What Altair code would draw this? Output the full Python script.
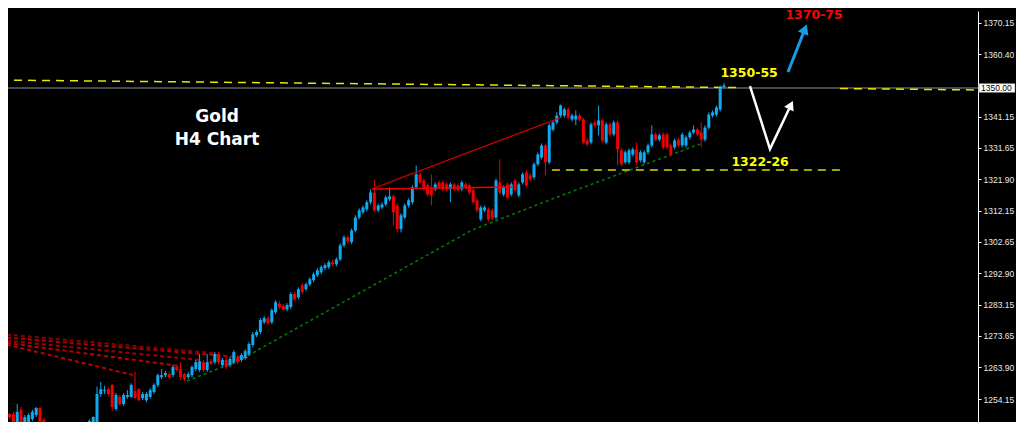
import altair as alt
import pandas as pd
import numpy as np

# ---------------- candle data (Gold H4) ----------------
opens = [1251.4,1247.1,1249.5,1249.5,1246.2,1250.8,1247.1,1247.1,1248.0,1249.2,
         1251.4,1247.7,1243.5,1241.0,1242.0,1246.4,1243.0,1240.5,1241.8,1243.5,
         1242.5,1243.8,1244.5,1243.0,1245.0,1244.5,1255.7,1256.6,1257.2,1258.5,
         1251.1,1254.8,1252.6,1254.8,1254.8,1256.6,1257.2,1254.4,1253.8,1254.8,
         1256.3,1258.5,1260.9,1261.5,1261.8,1261.5,1264.0,1263.4,1261.8,1260.9,
         1261.5,1263.4,1263.1,1265.5,1263.1,1265.8,1265.5,1268.0,1264.6,1266.2,
         1264.6,1265.5,1267.1,1266.2,1266.8,1268.0,1270.8,1273.8,1274.8,1277.8,
         1279.0,1277.8,1280.9,1283.5,1282.8,1281.8,1282.5,1286.5,1285.5,1289.2,
         1288.0,1289.5,1290.8,1292.3,1293.2,1294.5,1294.8,1296.3,1295.7,1297.2,
         1301.5,1304.0,1302.5,1306.1,1310.1,1311.7,1312.6,1314.8,1317.8,1312.3,
         1313.2,1314.1,1315.7,1316.6,1313.8,1306.5,1310.1,1313.8,1314.8,1319.4,
         1323.4,1321.5,1320.0,1318.8,1318.8,1320.9,1320.9,1320.3,1318.8,1320.3,
         1320.0,1318.8,1320.3,1320.0,1318.5,1315.4,1309.5,1312.3,1312.6,1312.3,
         1310.1,1320.9,1317.2,1320.3,1317.2,1321.5,1316.9,1320.9,1324.0,1323.1,
         1322.5,1326.5,1328.6,1332.3,1327.1,1337.2,1339.4,1341.5,1341.5,1343.4,
         1340.3,1340.3,1341.5,1340.3,1333.8,1333.2,1339.4,1338.5,1340.0,1333.2,
         1338.8,1335.7,1339.4,1330.8,1327.1,1327.1,1329.5,1331.1,1327.7,1327.1,
         1330.2,1332.3,1335.7,1334.1,1335.7,1335.7,1332.3,1331.7,1334.1,1332.3,
         1332.3,1334.8,1336.3,1337.2,1336.3,1334.1,1337.8,1341.5,1341.8,1343.4,
         1350.2]
highs = [1254.1,1250.2,1249.8,1250.2,1252.6,1251.7,1249.2,1249.8,1250.8,1251.7,
         1251.7,1248.3,1244.5,1243.5,1246.5,1247.0,1243.8,1242.5,1245.2,1244.3,
         1244.5,1245.3,1244.9,1247.9,1248.8,1258.0,1259.4,1258.2,1257.8,1258.8,
         1256.0,1255.4,1256.0,1256.9,1259.0,1262.5,1257.5,1256.3,1256.3,1257.5,
         1259.0,1262.0,1263.4,1262.8,1262.5,1264.6,1264.6,1265.5,1262.2,1262.5,
         1264.6,1266.2,1268.0,1266.2,1268.0,1266.5,1268.6,1268.6,1266.8,1266.8,
         1267.1,1269.2,1267.7,1268.3,1269.5,1271.7,1274.8,1275.4,1279.1,1279.7,
         1279.7,1282.1,1284.6,1284.3,1283.4,1283.7,1287.1,1287.1,1288.6,1289.8,
         1290.1,1291.7,1293.2,1294.5,1295.4,1296.0,1296.9,1296.9,1297.8,1302.1,
         1304.6,1304.6,1306.7,1310.8,1312.9,1313.8,1315.4,1318.8,1321.8,1314.4,
         1314.8,1316.9,1319.4,1317.2,1314.4,1311.4,1314.4,1316.0,1320.0,1326.1,
         1324.0,1322.1,1320.6,1323.4,1320.9,1321.5,1321.5,1320.9,1320.9,1320.9,
         1320.6,1321.5,1320.9,1320.6,1319.1,1316.0,1313.8,1313.8,1313.2,1312.9,
         1322.1,1328.0,1320.0,1320.9,1320.9,1322.1,1320.9,1324.0,1324.6,1323.7,
         1327.1,1330.2,1332.9,1332.9,1339.1,1340.0,1342.5,1344.9,1344.0,1344.0,
         1342.1,1343.1,1342.1,1340.9,1334.4,1339.4,1340.0,1344.6,1340.6,1339.4,
         1339.4,1340.0,1340.0,1331.4,1330.8,1331.4,1331.7,1333.2,1330.8,1330.8,
         1332.9,1338.5,1336.3,1336.0,1336.3,1336.3,1332.9,1334.4,1334.7,1336.3,
         1335.4,1336.9,1338.5,1337.8,1339.4,1338.5,1342.5,1343.1,1344.6,1350.8,
         1351.5]
lows = [1244.5,1246.2,1248.0,1245.5,1244.0,1246.2,1246.5,1246.8,1247.4,1248.6,
        1246.2,1242.0,1240.0,1239.5,1241.0,1241.5,1239.5,1239.0,1241.0,1241.5,
        1241.5,1242.0,1242.0,1242.0,1244.0,1243.5,1254.8,1255.7,1255.1,1250.5,
        1250.5,1252.0,1252.0,1254.2,1254.5,1254.2,1253.5,1253.8,1253.2,1254.2,
        1255.7,1257.8,1260.3,1260.9,1260.3,1260.9,1262.5,1260.0,1259.7,1260.3,
        1260.9,1262.8,1262.5,1262.5,1262.5,1264.6,1264.9,1264.9,1264.0,1263.4,
        1264.0,1264.9,1264.9,1265.5,1266.2,1267.4,1270.1,1273.2,1274.1,1277.2,
        1276.9,1277.2,1280.3,1281.8,1281.2,1281.2,1281.8,1284.3,1284.9,1286.5,
        1287.4,1288.9,1290.1,1291.7,1292.6,1293.8,1294.2,1295.1,1295.1,1296.6,
        1300.9,1302.2,1301.9,1305.5,1309.5,1311.1,1312.0,1314.1,1311.7,1311.7,
        1312.6,1313.5,1315.1,1307.7,1305.5,1305.5,1309.5,1313.2,1314.1,1318.8,
        1320.3,1318.2,1316.6,1313.8,1318.2,1318.8,1318.2,1318.2,1314.8,1318.2,
        1317.8,1318.2,1318.8,1317.2,1314.1,1311.7,1308.9,1311.7,1308.9,1309.2,
        1309.5,1317.2,1316.6,1315.7,1316.6,1317.8,1316.3,1320.3,1319.4,1321.2,
        1321.8,1325.9,1328.0,1323.1,1326.5,1336.6,1338.8,1340.9,1340.9,1340.3,
        1339.7,1338.5,1339.7,1332.6,1332.0,1332.6,1337.9,1335.4,1333.2,1332.6,
        1335.1,1335.1,1326.1,1325.9,1326.5,1326.5,1328.9,1326.1,1327.1,1326.5,
        1329.5,1331.7,1333.5,1333.5,1331.1,1331.1,1328.9,1331.1,1331.7,1331.7,
        1331.7,1334.1,1335.7,1335.1,1331.7,1333.5,1337.2,1340.9,1341.2,1342.8,
        1349.8]
closes = [1246.6,1249.5,1248.6,1246.2,1250.2,1246.6,1248.6,1249.2,1250.2,1251.4,
          1247.1,1243.5,1241.0,1242.5,1245.8,1243.0,1240.5,1241.8,1243.5,1242.5,
          1243.8,1244.5,1243.0,1247.4,1248.6,1255.7,1257.2,1256.9,1255.7,1251.7,
          1255.4,1252.6,1255.4,1255.4,1258.5,1254.5,1253.8,1255.7,1255.7,1256.9,
          1258.5,1261.5,1261.5,1262.2,1260.9,1264.0,1263.1,1260.9,1260.3,1261.8,
          1264.0,1265.5,1265.8,1263.1,1265.5,1265.0,1268.0,1265.5,1266.2,1264.0,
          1266.5,1268.6,1265.5,1267.7,1268.9,1271.1,1274.1,1274.8,1278.5,1279.1,
          1277.5,1281.5,1284.0,1282.5,1281.8,1283.1,1286.5,1284.9,1288.0,1287.1,
          1289.5,1291.1,1292.6,1293.8,1294.8,1295.4,1296.3,1295.7,1297.2,1301.5,
          1304.0,1302.8,1306.1,1310.1,1312.3,1313.2,1314.8,1317.8,1312.3,1313.8,
          1314.1,1316.3,1316.6,1311.7,1306.5,1310.8,1313.8,1315.4,1319.4,1323.4,
          1320.9,1318.8,1317.2,1316.9,1320.3,1319.4,1318.8,1318.8,1320.3,1318.8,
          1318.5,1320.9,1319.4,1317.8,1314.8,1312.3,1313.2,1313.2,1309.5,1309.8,
          1321.5,1317.8,1319.4,1316.3,1320.3,1318.5,1320.3,1323.4,1320.0,1321.8,
          1326.5,1329.5,1332.3,1327.1,1338.5,1339.4,1341.5,1344.6,1343.4,1340.9,
          1341.5,1341.5,1340.3,1333.2,1332.6,1338.8,1338.5,1340.0,1333.8,1338.8,
          1335.7,1339.4,1331.1,1326.5,1330.2,1330.8,1331.1,1327.1,1330.2,1330.2,
          1332.3,1335.7,1334.1,1335.4,1331.7,1331.7,1329.5,1333.8,1332.3,1335.7,
          1334.8,1336.3,1337.2,1335.7,1334.1,1337.8,1341.8,1342.5,1344.0,1350.15,
          1350.8]

# ---------------- axis ticks ----------------
tick_values = [1370.15, 1360.40, 1350.00, 1341.15, 1331.65, 1321.90, 1312.15,
               1302.65, 1292.90, 1283.15, 1273.65, 1263.90, 1254.15]
current_price = 1350.00

# ---------------- annotation lines (bar index, price) ----------------
resist_a_i = [-0.53, 194.7];  resist_a_p = [1352.46, 1350.13]
resist_b_i = [220.5, 258.2];  resist_b_p = [1349.84, 1349.38]
support_i = [144.7, 221.05];  support_p = [1324.73, 1324.73]
bid_i = [-1.0, 260.0];        bid_p = [1350.0, 1350.0]
green_i = [48.68, 62.63, 123.68, 146.84, 183.68]
green_p = [1259.70, 1266.17, 1306.24, 1316.71, 1332.74]
red_rise_i = [97.37, 147.37]; red_rise_p = [1318.87, 1341.06]
red_fan_i = [97.37, 108.16];  red_fan_p = [1318.87, 1323.80]
red_flat_i = [97.37, 134.2];  red_flat_p = [1318.87, 1319.49]
dotted_start_i = [-0.53, -0.53, -0.53, -0.53, -0.53]
dotted_start_p = [1274.19, 1273.26, 1272.34, 1271.72, 1271.41]
dotted_end_i = [55.53, 65.26, 52.1, 46.84, 34.47]
dotted_end_p = [1268.33, 1266.79, 1266.17, 1264.32, 1261.55]
dotted_colors = ["#8a0000", "#b00000", "#a00000", "#c00000", "#c00000"]

blue_arrow_i = [206.84, 211.3]; blue_arrow_p = [1354.93, 1368.18]
white_path_i = [196.84, 202.1, 207.6]; white_path_p = [1350.61, 1331.2, 1344.76]

labels_text = ["Gold", "H4 Chart", "1350-55", "1370-75", "1322-26"]
labels_i = [56.6, 56.6, 196.6, 213.7, 199.5]
labels_p = [1341.06, 1334.12, 1354.62, 1372.65, 1327.19]
labels_color = ["#ffffff", "#ffffff", "#ffff00", "#ff0000", "#ffff00"]
labels_size = [17, 17, 12.5, 12.5, 12.5]

# ---------------- scales & axes ----------------
BLUE = "#0faaf2"
RED = "#f00000"
PLOT_W = 970
xs = alt.Scale(domain=[1.58, 256.84], nice=False, zero=False)
ys = alt.Scale(domain=[1247.07, 1373.73], nice=False, zero=False)
yaxis = alt.Axis(orient="right", values=tick_values, format=".2f", title=None,
                 labelExpr="datum.value == 1350 ? '' : format(datum.value, '.2f')",
                 labelColor="#e8e8e8", labelFont="Liberation Sans", labelFontSize=8.5,
                 tickColor="#ffffff", tickSize=3, domainColor="#ffffff", domainWidth=1,
                 labelPadding=2, labelOverlap=False, grid=False)


def X(f="i"):
    return alt.X(f"{f}:Q", scale=xs, axis=None)


def Y(f="p"):
    return alt.Y(f"{f}:Q", scale=ys, axis=yaxis)


df = pd.DataFrame({"i": np.arange(len(opens)), "o": opens, "h": highs,
                   "l": lows, "c": closes})
df["dir"] = np.where(df["c"] >= df["o"], "up", "down")
col = alt.Color("dir:N", scale=alt.Scale(domain=["up", "down"], range=[BLUE, RED]),
                legend=None)


def line(xi, yp, color, width=1.0, dash=None, clip=True):
    d = pd.DataFrame({"i": xi, "p": yp, "k": range(len(xi))})
    kw = dict(color=color, strokeWidth=width, clip=clip)
    if dash:
        kw["strokeDash"] = dash
    return alt.Chart(d).mark_line(**kw).encode(x=X(), y=Y(), order="k:Q")


layers = []
# dotted red fan
for k in range(len(dotted_start_i)):
    layers.append(line([dotted_start_i[k], dotted_end_i[k]],
                       [dotted_start_p[k], dotted_end_p[k]],
                       dotted_colors[k], 2, [4, 3]))
# green dotted trendline
layers.append(line(green_i, green_p, "#007a00", 1.6, [3, 3]))
# bid line and yellow dashed levels
layers.append(line(bid_i, bid_p, "#8c8c8c", 1))
layers.append(line(resist_a_i, resist_a_p, "#e8e800", 1.5, [8, 6]))
layers.append(line(resist_b_i, resist_b_p, "#e8e800", 1.5, [8, 6]))
layers.append(line(support_i, support_p, "#d8d800", 1.5, [8, 6]))

# candles
wicks = alt.Chart(df).mark_rule(strokeWidth=1, clip=True).encode(
    x=X(), y=Y("l"), y2="h:Q", color=col)
bodies = alt.Chart(df).mark_rule(strokeWidth=3, clip=True).encode(
    x=X(), y=Y("o"), y2="c:Q", color=col)
layers += [wicks, bodies]

# red trend lines
layers.append(line(red_rise_i, red_rise_p, "#e00000", 1.2))
layers.append(line(red_fan_i, red_fan_p, "#a00000", 1.2))
layers.append(line(red_flat_i, red_flat_p, "#f00000", 1.5))

# arrows
layers.append(line(blue_arrow_i, blue_arrow_p, "#1a9be6", 3))
head_b = pd.DataFrame({"i": [blue_arrow_i[-1]], "p": [blue_arrow_p[-1]]})
layers.append(alt.Chart(head_b).mark_point(shape="triangle-up", filled=True, size=130,
                                           angle=22, color="#1a9be6", opacity=1)
              .encode(x=X(), y=Y()))
layers.append(line(white_path_i, white_path_p, "#ffffff", 2.5))
head_w = pd.DataFrame({"i": [white_path_i[-1]], "p": [white_path_p[-1]]})
layers.append(alt.Chart(head_w).mark_point(shape="triangle-up", filled=True, size=110,
                                           angle=26, color="#ffffff", opacity=1)
              .encode(x=X(), y=Y()))

# texts
tdf = pd.DataFrame({"t": labels_text, "i": labels_i, "p": labels_p,
                    "col": labels_color, "s": labels_size})
layers.append(alt.Chart(tdf).mark_text(font="DejaVu Sans", fontWeight="bold",
                                       align="center", baseline="middle")
              .encode(x=X(), y=Y(), text="t:N",
                      color=alt.Color("col:N", scale=None),
                      size=alt.Size("s:Q", scale=None)))

# current price box on the axis
box = pd.DataFrame({"p": [current_price + 1.35], "p2": [current_price - 1.35],
                    "t": [f"{current_price:.2f}"], "c": [current_price]})
layers.append(alt.Chart(box).mark_rect(color="#ffffff", stroke="#606060", strokeWidth=0.5)
              .encode(x=alt.value(PLOT_W + 1), x2=alt.value(PLOT_W + 37),
                      y=Y("p"), y2="p2:Q"))
layers.append(alt.Chart(box).mark_text(align="left", baseline="middle", color="#000000",
                                       font="Liberation Sans", fontSize=8.5)
              .encode(x=alt.value(PLOT_W + 3), y=Y("c"), text="t:N"))

chart = alt.layer(*layers).properties(
    width=PLOT_W, height=411, padding=0, background="#000000"
).configure_view(stroke=None)

chart.save("out.html", embed_options={"renderer": "svg", "actions": False})
